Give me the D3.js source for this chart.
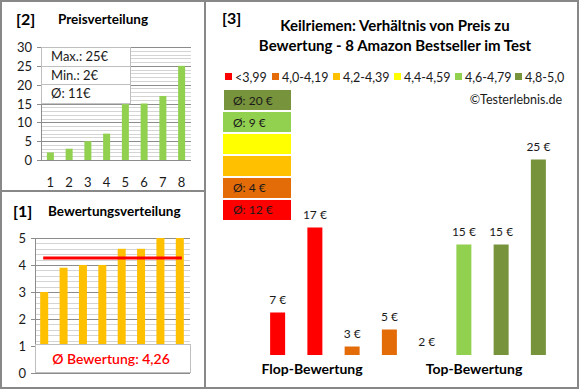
<!DOCTYPE html>
<html>
<head>
<meta charset="utf-8">
<script src="https://cdn.jsdelivr.net/npm/d3@7"></script>
<style>
  body { margin: 0; background: #fff; }
  svg { display: block; font-family: Lato, "Open Sans", sans-serif; }
</style>
</head>
<body>
<svg id="chart" width="580" height="390"></svg>
<script>
// price distribution (sorted)
const priceCats = ['1', '2', '3', '4', '5', '6', '7', '8'];
const prices = [2, 3, 5, 7, 15, 15, 17, 25];
const priceInfo = ['Max.: 25€', 'Min.: 2€', 'Ø: 11€'];
const priceTicks = [0, 5, 10, 15, 20, 25, 30];

// rating distribution
const ratings = [3, 3.9, 4, 4, 4.6, 4.6, 5, 5];
const avgRating = 4.26;
const ratingTicks = [0, 1, 2, 3, 4, 5];

// rating classes
const classLabels = ['<3,99', '4,0-4,19', '4,2-4,39', '4,4-4,59', '4,6-4,79', '4,8-5,0'];
const classColors = ['#FF0000', '#E36C09', '#FFC000', '#FFFF00', '#92D050', '#77933C'];
const classAvg = ['Ø: 12 €', 'Ø: 4 €', '', '', 'Ø: 9 €', 'Ø: 20 €'];

// main chart: price per product, with its rating class
const mainPrices = [7, 17, 3, 5, 2, 15, 15, 25];
const mainClass = [0, 0, 1, 1, 4, 4, 5, 5];

const svg = d3.select('#chart');
const gridMajor = '#8c8c8c', gridMinor = '#d4d4d4';

// frame
svg.append('rect').attr('x', 1).attr('y', 1).attr('width', 577).attr('height', 387)
    .attr('fill', 'none').attr('stroke', '#888').attr('stroke-width', 2);
svg.append('line').attr('x1', 205).attr('x2', 205).attr('y1', 1).attr('y2', 388)
    .attr('stroke', '#888').attr('stroke-width', 2);
svg.append('line').attr('x1', 1).attr('x2', 205).attr('y1', 191).attr('y2', 191)
    .attr('stroke', '#888').attr('stroke-width', 2);

function grid(g, y, x0, x1, minorStep, max, majorTicks) {
    const minor = d3.range(0, max + 1e-9, minorStep);
    g.selectAll('.minor').data(minor).join('line')
        .attr('x1', x0).attr('x2', x1)
        .attr('y1', d => Math.round(y(d)) + 0.5).attr('y2', d => Math.round(y(d)) + 0.5)
        .attr('stroke', gridMinor);
    g.selectAll('.major').data(majorTicks).join('line')
        .attr('x1', x0).attr('x2', x1)
        .attr('y1', d => Math.round(y(d)) + 0.5).attr('y2', d => Math.round(y(d)) + 0.5)
        .attr('stroke', gridMajor);
    g.append('line').attr('x1', x0 + 0.5).attr('x2', x0 + 0.5)
        .attr('y1', y(max)).attr('y2', y(0)).attr('stroke', gridMajor);
    g.selectAll('.tick').data(majorTicks).join('line')
        .attr('x1', x0 - 4).attr('x2', x0)
        .attr('y1', d => Math.round(y(d)) + 0.5).attr('y2', d => Math.round(y(d)) + 0.5)
        .attr('stroke', gridMajor);
    g.selectAll('.tl').data(majorTicks).join('text')
        .attr('x', x0 - 9).attr('y', d => y(d) + 5)
        .attr('text-anchor', 'end').attr('font-size', 13).attr('fill', '#1a1a1a')
        .text(d => d);
}

// ---- [2] Preisverteilung
{
    const g = svg.append('g');
    g.append('text').attr('x', 16).attr('y', 25).attr('font-size', 16).attr('font-weight', 'bold').text('[2]');
    g.append('text').attr('x', 58).attr('y', 24).attr('font-size', 13.5).attr('font-weight', 'bold').text('Preisverteilung');

    const x = d3.scaleBand().domain(priceCats).range([41, 191]);
    const y = d3.scaleLinear().domain([0, 30]).range([160, 47]);
    grid(g, y, 41, 191, 1, 30, priceTicks);

    g.selectAll('.bar').data(prices).join('rect')
        .attr('x', (d, i) => x(priceCats[i]) + x.bandwidth() / 2 - 3.5)
        .attr('width', 7)
        .attr('y', d => y(d)).attr('height', d => y(0) - y(d))
        .attr('fill', '#92D050');

    g.selectAll('.xl').data(priceCats).join('text')
        .attr('x', d => x(d) + x.bandwidth() / 2).attr('y', 187)
        .attr('text-anchor', 'middle').attr('font-size', 13).attr('fill', '#1a1a1a')
        .text(d => d);

    // info box
    const bx = 41, bw = 89, rowH = 18.7, by = 47;
    g.append('rect').attr('x', bx + 0.5).attr('y', by + 0.5).attr('width', bw).attr('height', rowH * 3)
        .attr('fill', '#fff').attr('stroke', '#bfbfbf');
    priceInfo.forEach((t, i) => {
        if (i > 0) g.append('line').attr('x1', bx).attr('x2', bx + bw)
            .attr('y1', Math.round(by + rowH * i) + 0.5).attr('y2', Math.round(by + rowH * i) + 0.5)
            .attr('stroke', '#bfbfbf');
        g.append('text').attr('x', bx + 10).attr('y', by + rowH * i + 14)
            .attr('font-size', 13).attr('fill', '#1a1a1a').text(t);
    });
}

// ---- [1] Bewertungsverteilung
{
    const g = svg.append('g');
    g.append('text').attr('x', 13).attr('y', 217).attr('font-size', 16).attr('font-weight', 'bold').text('[1]');
    g.append('text').attr('x', 48).attr('y', 216).attr('font-size', 13.5).attr('font-weight', 'bold').text('Bewertungsverteilung');

    const x = d3.scaleBand().domain(priceCats).range([34.5, 189.5]);
    const y = d3.scaleLinear().domain([0, 5]).range([373, 238]);
    grid(g, y, 35, 190, 0.2, 5, ratingTicks);

    g.selectAll('.bar').data(ratings).join('rect')
        .attr('x', (d, i) => x(priceCats[i]) + x.bandwidth() / 2 - 4)
        .attr('width', 8)
        .attr('y', d => y(d)).attr('height', d => y(0) - y(d))
        .attr('fill', '#FFC000');

    const c0 = x(priceCats[0]) + x.bandwidth() / 2, c7 = x(priceCats[7]) + x.bandwidth() / 2;
    g.append('line').attr('x1', c0 - 1).attr('x2', c7 + 2)
        .attr('y1', y(avgRating)).attr('y2', y(avgRating))
        .attr('stroke', '#FF0000').attr('stroke-width', 3);

    g.append('rect').attr('x', 35.5).attr('y', Math.round(y(1)) - 1.5).attr('width', 155).attr('height', y(0) - y(1) + 1)
        .attr('fill', '#fff').attr('stroke', '#bfbfbf');
    g.append('text').attr('x', 111).attr('y', 364).attr('text-anchor', 'middle')
        .attr('font-size', 14).attr('font-weight', 600).attr('fill', '#FF0000')
        .text('Ø Bewertung: ' + d3.format('.2f')(avgRating).replace('.', ','));
}

// ---- [3] main chart
{
    const g = svg.append('g');
    g.append('text').attr('x', 222).attr('y', 24).attr('font-size', 16).attr('font-weight', 'bold').text('[3]');
    g.append('text').attr('x', 395).attr('y', 31).attr('text-anchor', 'middle')
        .attr('font-size', 15).attr('font-weight', 'bold').text('Keilriemen: Verhältnis von Preis zu');
    g.append('text').attr('x', 395).attr('y', 51).attr('text-anchor', 'middle')
        .attr('font-size', 15).attr('font-weight', 'bold').text('Bewertung - 8 Amazon Bestseller im Test');

    // legend
    const legX = [225, 272, 333, 394, 455, 515];
    classLabels.forEach((l, i) => {
        g.append('rect').attr('x', legX[i]).attr('y', 73).attr('width', 7).attr('height', 7).attr('fill', classColors[i]);
        g.append('text').attr('x', legX[i] + 10).attr('y', 82).attr('font-size', 12.5).attr('fill', '#1a1a1a').text(l);
    });
    g.append('text').attr('x', 562).attr('y', 104).attr('text-anchor', 'end')
        .attr('font-size', 12.5).attr('fill', '#1a1a1a').text('©Testerlebnis.de');

    // class average blocks (best on top)
    const blockY = d3.scaleBand().domain(d3.range(6).reverse()).range([90, 220]).paddingInner(0.09);
    d3.range(6).forEach(i => {
        g.append('rect').attr('x', i === 5 ? 224 : 223).attr('y', blockY(i))
            .attr('width', i === 5 ? 67 : 68).attr('height', blockY.bandwidth())
            .attr('fill', classColors[i]);
        if (classAvg[i]) g.append('text').attr('x', 233).attr('y', blockY(i) + blockY.bandwidth() / 2 + 4.5)
            .attr('font-size', 12).attr('fill', '#1a1a1a').text(classAvg[i]);
    });

    const x = d3.scaleBand().domain(d3.range(mainPrices.length)).range([259, 557]);
    const y = d3.scaleLinear().domain([2, 25]).range([355, 159.5]);

    g.selectAll('.bar').data(mainPrices).join('rect')
        .attr('x', (d, i) => x(i) + x.bandwidth() / 2 - 7.5)
        .attr('width', 15)
        .attr('y', d => y(d)).attr('height', d => y(2) - y(d))
        .attr('fill', (d, i) => classColors[mainClass[i]]);

    g.selectAll('.bl').data(mainPrices).join('text')
        .attr('x', (d, i) => x(i) + x.bandwidth() / 2).attr('y', d => y(d) - 9)
        .attr('text-anchor', 'middle').attr('font-size', 12).attr('fill', '#1a1a1a')
        .text(d => d + ' €');

    g.append('text').attr('x', 312).attr('y', 374).attr('text-anchor', 'middle')
        .attr('font-size', 14).attr('font-weight', 'bold').text('Flop-Bewertung');
    g.append('text').attr('x', 474).attr('y', 374).attr('text-anchor', 'middle')
        .attr('font-size', 14).attr('font-weight', 'bold').text('Top-Bewertung');
}
</script>
</body>
</html>
